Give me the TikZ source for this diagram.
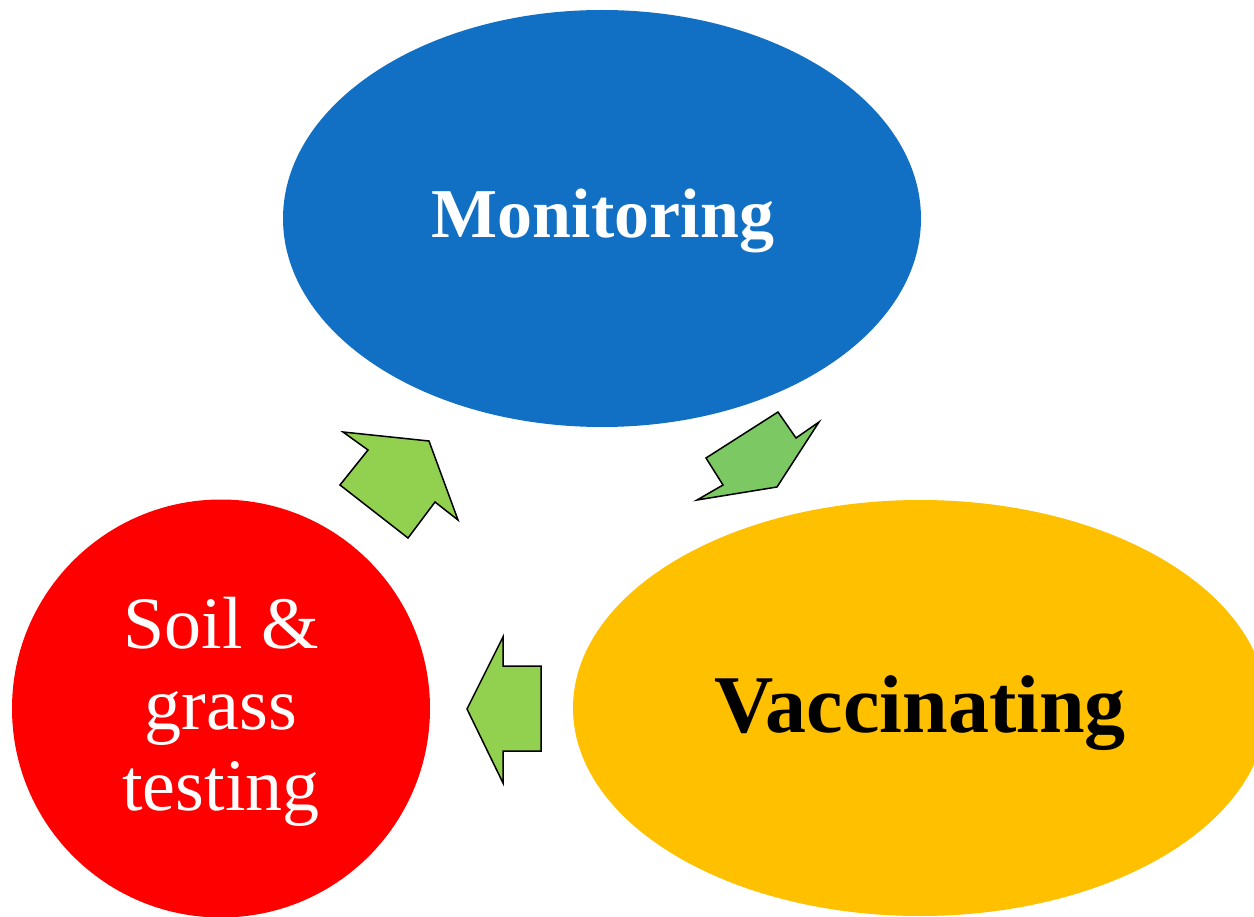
\documentclass[tikz,border=0pt]{standalone}
\usepackage{fontspec}
\setmainfont{Liberation Serif}
\usetikzlibrary{shapes.geometric}
\definecolor{monblue}{HTML}{1170C4}
\definecolor{vacyellow}{HTML}{FFC000}
\definecolor{soilred}{HTML}{FF0000}
\definecolor{arrowgreenA}{HTML}{92D050}
\definecolor{arrowgreenB}{HTML}{7CC863}
\tikzset{
  blob/.style={ellipse, inner sep=0pt, draw=none},
  arrowshape/.style={draw=black, line width=1.5pt, line join=miter},
}
\begin{document}
\begin{tikzpicture}[x=1pt,y=-1pt]
\useasboundingbox[fill=white] (0,0) rectangle (1254,917);
% Monitoring
\node[blob, fill=monblue, minimum width=638pt, minimum height=417pt] (mon) at (602,218.5) {};
\node[font=\fontsize{70}{80}\selectfont\bfseries, text=white] (montext) at (603,221) {Monitoring};
% Vaccinating
\node[blob, fill=vacyellow, minimum width=694pt, minimum height=416pt] (vac) at (920,708) {};
\node[font=\fontsize{82}{90}\selectfont\bfseries, text=black] (vactext) at (920,713) {Vaccinating};
% Soil
\node[circle, inner sep=0pt, fill=soilred, minimum size=418pt] (soil) at (221,708.5) {};
\node[font=\fontsize{74}{81}\selectfont, text=white, align=center] (soiltext) at (221,712) {Soil \&\\grass\\testing};
% arrows
\fill[arrowgreenA] (343,432) -- (429,441) -- (458,520) -- (435,502) -- (408,538) -- (340,485) -- (368,450) -- cycle;
\draw[arrowshape] (343,432) -- (429,441) -- (458,520) -- (435,502) -- (408,538) -- (340,485) -- (368,450) -- cycle;
\fill[arrowgreenB] (778,412) -- (796,438) -- (819,422) -- (777,487) -- (697,500) -- (723,485) -- (706,458) -- cycle;
\draw[arrowshape] (778,412) -- (796,438) -- (819,422) -- (777,487) -- (697,500) -- (723,485) -- (706,458) -- cycle;
\fill[arrowgreenA] (467,709) -- (503,637) -- (503,666) -- (541,666) -- (541,751) -- (503,751) -- (503,783) -- cycle;
\draw[arrowshape] (467,709) -- (503,637) -- (503,666) -- (541,666) -- (541,751) -- (503,751) -- (503,783) -- cycle;
\end{tikzpicture}
\end{document}
